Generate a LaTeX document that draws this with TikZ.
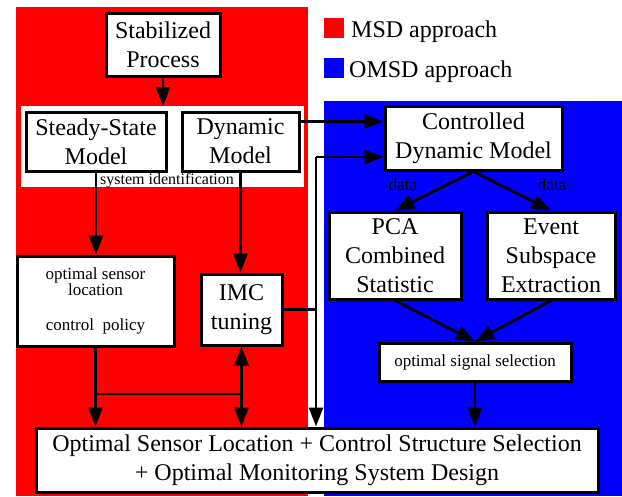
\documentclass[tikz,border=0pt]{standalone}
\usepackage{fontspec}
\setmainfont{Liberation Serif}
\usetikzlibrary{arrows.meta}

\definecolor{msdred}{RGB}{255,0,0}
\definecolor{omsdblue}{RGB}{0,0,255}
\newcommand{\bigtext}{\fontsize{24}{29}\selectfont}
\newcommand{\smalltext}{\fontsize{17}{16}\selectfont}

\tikzset{
  box/.style={draw, line width=3pt, fill=white, align=center, inner sep=0pt, font=\bigtext},
  smallbox/.style={box, font=\smalltext},
  flow/.style={line width=2.8pt, -{Triangle[length=19pt,width=14pt]}},
  link/.style={line width=2.8pt},
  tag/.style={inner sep=0pt, font=\smalltext},
}

\begin{document}
\begin{tikzpicture}[x=1pt, y=-1pt]
	\useasboundingbox (0,0) rectangle (622,496);
	
	% the two approaches
	\fill[msdred] (16,7) rectangle (308,496);
	\fill[omsdblue] (324,101) rectangle (622,496);
	\fill[white] (21,106) rectangle (304,187); % identification band
	\coordinate (bandtop) at (163,106);
	
	% legend
	\fill[msdred] (324,18) rectangle (344,38);
	\node[anchor=base west, inner sep=0pt, font=\bigtext] (msdkey) at (351,37) {MSD approach};
	\fill[omsdblue] (324,58) rectangle (344,78);
	\node[anchor=base west, inner sep=0pt, font=\bigtext] (omsdkey) at (349,77) {OMSD approach};
	
	% MSD side
	\node[box, minimum width=114pt, minimum height=63pt] (stab) at (163,44.5) {Stabilized\\Process};
	\node[box, minimum width=140pt, minimum height=59pt] (ssm) at (96,141.5) {Steady-State\\Model};
	\node[box, minimum width=117pt, minimum height=59pt] (dyn) at (240.5,141.5) {Dynamic\\Model};
	\node[tag, anchor=base, font=\fontsize{16}{16}\selectfont] (sysid) at (167,184) {system identification};
	\node[smallbox, minimum width=157pt, minimum height=90pt] (osl) at (95.5,301) {optimal sensor\\location\\[19pt]control~~policy};
	\node[box, minimum width=81pt, minimum height=71pt] (imc) at (241.5,309.5) {IMC\\tuning};
	
	% OMSD side
	\node[box, minimum width=177pt, minimum height=64pt] (cdm) at (473.5,138) {Controlled\\Dynamic Model};
	\node[tag, anchor=base] (dataL) at (403,190) {data};
	\node[tag, anchor=base] (dataR) at (552,190) {data};
	\node[box, minimum width=132pt, minimum height=87pt] (pca) at (395,255.5) {PCA\\Combined\\Statistic};
	\node[box, minimum width=128pt, minimum height=87pt] (event) at (551,255.5) {Event\\Subspace\\Extraction};
	\node[smallbox, minimum width=192pt, minimum height=38pt] (oss) at (475,362) {optimal signal selection};
	
	% common result
	\node[box, minimum width=562pt, minimum height=64pt] (final) at (317,460) {Optimal Sensor Location + Control Structure Selection\\+ Optimal Monitoring System Design};
	
	% connections
	\draw[flow] (stab.south) -- (stab.south |- bandtop);
	\draw[flow] (ssm.south) -- (ssm.south |- osl.north);
	\draw[flow] (dyn.south) -- (dyn.south |- imc.north);
	\draw[flow] ([yshift=-11pt]dyn.north east) -- ([yshift=-11pt]dyn.north east -| cdm.west);
	
	\coordinate (bus) at (316,157);
	\draw[flow] (bus) -- (bus -| cdm.west);
	\draw[flow] (bus) -- (bus |- final.north);
	\draw[link] (imc.east) -- (imc.east -| bus);
	
	\coordinate (tee) at (95.5,394);
	\coordinate (teeright) at (tee -| imc.south);
	\draw[flow] (osl.south) -- (osl.south |- final.north);
	\draw[link] (tee) -- (teeright);
	\draw[flow] (teeright) -- (imc.south);
	\draw[flow] (teeright) -- (teeright |- final.north);
	
	\draw[flow] (cdm.south) -- (pca.north);
	\draw[flow] (cdm.south) -- (event.north);
	\draw[flow] (pca.south) -- (oss.north);
	\draw[flow] (event.south) -- (oss.north);
	\draw[flow] (oss.south) -- (oss.south |- final.north);
	
\end{tikzpicture}
\end{document}
